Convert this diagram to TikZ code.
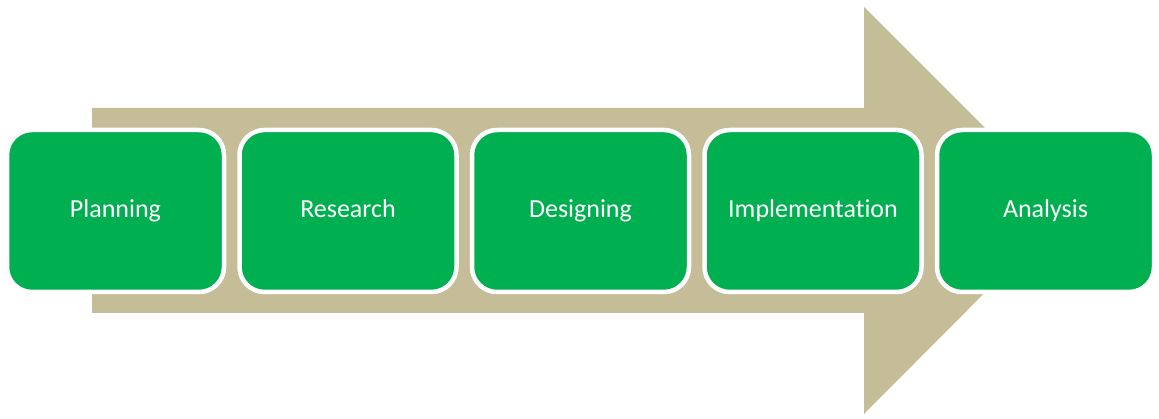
\documentclass[tikz,border=0pt]{standalone}
\usepackage{fontspec}
\setmainfont[Ligatures=NoCommon]{Carlito}
\usepackage{tikz}
\usetikzlibrary{positioning}

\definecolor{phasegreen}{RGB}{0,176,80}
\definecolor{arrowtan}{RGB}{196,189,151}

\tikzset{
  phase/.style={fill=phasegreen, draw=white, line width=4.5pt, rounded corners=25pt,
    minimum width=217pt, minimum height=162pt, text height=18pt, text depth=5pt,
    text=white, font=\fontsize{26}{30}\selectfont},
}

\begin{document}
\begin{tikzpicture}[x=1pt, y=1pt]
\useasboundingbox (0,0) rectangle (1159,419);
% big arrow behind the phases
\fill[arrowtan] (92,106) -- (92,311) -- (864,311) -- (864,412) -- (1067,209)
  -- (864,5) -- (864,106) -- cycle;
\draw(115.5,208) node [phase] (plan) {Planning};
\node [phase, right=11pt of plan] (research) {Research};
\node [phase, right=11pt of research] (design) {Designing};
\node [phase, right=11pt of design] (impl) {Implementation};
\node [phase, right=11pt of impl] (analysis) {Analysis};
\end{tikzpicture}
\end{document}
